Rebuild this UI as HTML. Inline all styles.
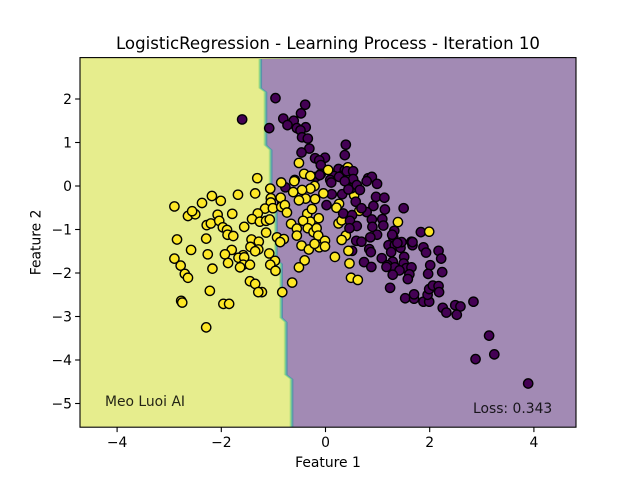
<!DOCTYPE html>
<html lang="en">
<head>
<meta charset="utf-8">
<title>LogisticRegression - Learning Process</title>
<style>
html,body{margin:0;padding:0;background:#fff;width:640px;height:480px;overflow:hidden}
svg{display:block}
text{font-family:"DejaVu Sans","Liberation Sans",sans-serif;fill:#000}
</style>
</head>
<body>
<svg id="chart" width="640" height="480" viewBox="0 0 640 480" xmlns="http://www.w3.org/2000/svg">
  <g id="surface"></g>
  <g id="points"></g>
  <rect x="80" y="57.6" width="496" height="369.6" fill="none" stroke="#000" stroke-width="1.1"></rect>
  <g id="ticks"></g>
  <text x="328" y="49" font-size="16.6" text-anchor="middle">LogisticRegression - Learning Process - Iteration 10</text>
  <text x="328" y="467" font-size="13.89" text-anchor="middle">Feature 1</text>
  <text transform="translate(40.5,242.4) rotate(-90)" font-size="13.89" text-anchor="middle">Feature 2</text>
  <text x="105" y="406" font-size="13.89" fill-opacity="0.85">Meo Luoi AI</text>
  <text x="473" y="413" font-size="13.89" fill-opacity="0.85">Loss: 0.343</text>
</svg>
<script>
const xTicks = [-4, -2, 0, 2, 4];
const yTicks = [2, 1, 0, -1, -2, -3, -4, -5];
const boundaryX = [-1.29, -1.29, -1.19, -1.19, -1.09, -1.09, -0.99, -0.99, -0.89, -0.89, -0.80, -0.80, -0.69, -0.69];
const boundaryY = [2.92, 2.25, 2.16, 0.94, 0.83, -0.38, -0.48, -1.70, -1.79, -3.03, -3.13, -4.34, -4.44, -5.55];
const class0Back = [
[-0.96,2.02],[-0.39,1.87],[-0.47,1.67],[-0.81,1.55],[-0.61,1.50],[-0.73,1.40],[-1.08,1.33],[-0.38,1.35],[-0.55,1.33],[-0.48,1.28],
[-0.45,1.12],[-0.34,1.09],[-0.31,0.86],[-0.46,0.77],[0.39,0.95],[0.37,0.71],[-0.01,0.65],[-0.20,0.64],[-0.12,0.59],[-0.09,0.48],
[0.25,0.39],[0.37,0.37],[-0.09,0.28],[0.16,0.23],[0.30,0.23],[-0.18,0.21],[-1.60,1.53],[0.09,0.14],[0.11,0.08],[0.26,0.21],
[-0.77,-0.03],[-0.59,0.14],[-0.11,0.25],[-0.83,-0.41],[0.12,-0.19],[0.02,-0.44],[0.82,0.18],[0.89,0.21],[0.79,0.11],[0.99,0.05],
[0.97,-0.25],[1.13,-0.27],[0.92,-0.46],[1.14,-0.54],[0.79,-0.60],[0.89,-0.77],[1.09,-0.76],[0.90,-0.94],[1.11,-0.91],[1.32,-1.03],
[1.50,-0.51],[1.83,-1.06],[0.99,-1.12],[0.86,-1.18],[1.30,-1.18],[1.28,-1.12],[0.59,-1.26],[0.69,-1.28],[1.65,-1.28],[1.21,-1.36],
[1.33,-1.36],[1.44,-1.42],[1.67,-1.36],[1.88,-1.41],[1.93,-1.53],[0.51,-1.49],[0.84,-1.45],[0.87,-1.52],[1.26,-1.52],[1.08,-1.66],
[1.51,-1.63],[1.29,-1.74],[0.74,-1.75],[1.19,-1.82],[1.50,-1.78],[0.88,-1.86],[1.33,-1.87],[1.55,-1.89],[1.65,-1.87],[2.01,-1.82],
[1.46,-1.29],[1.38,-1.31],[1.67,-1.29],[2.17,-1.49],[2.22,-1.67],[1.97,-2.02],[2.24,-1.98],[1.17,-1.86],[1.42,-1.94],[1.61,-2.03],
[1.58,-2.14],[1.29,-2.04],[1.24,-2.34],[1.53,-2.58],[1.70,-2.59],[1.70,-2.49],[1.88,-2.66],[1.99,-2.66],[1.96,-2.50],[1.99,-2.37],
[2.06,-2.29],[2.17,-2.30],[2.18,-2.44],[2.25,-2.80],[2.32,-2.91],[2.49,-2.74],[2.59,-2.77],[2.52,-2.96],[2.84,-2.66],[3.14,-3.44],
[2.88,-3.98],[3.24,-3.87],[3.89,-4.54]
];
const class1 = [
[-2.90,-0.47],[-2.64,-0.69],[-2.50,-0.65],[-2.56,-0.58],[-2.37,-0.39],[-2.28,-0.90],[-2.20,-0.86],[-2.85,-1.23],[-2.29,-1.21],[-2.58,-1.47],
[-2.26,-1.57],[-2.90,-1.67],[-2.78,-1.83],[-2.18,-0.23],[-1.31,0.18],[-1.06,-0.06],[-0.85,0.08],[-0.60,0.11],[-0.41,0.28],[-0.29,0.23],
[-0.21,0],[-0.29,-0.06],[-0.45,-0.09],[-0.62,-0.14],[-0.86,-0.27],[-0.38,-0.29],[-0.51,-0.33],[-1.05,-0.28],[-1.05,-0.38],[-1.35,-0.17],
[-1.68,-0.20],[-2.01,-0.34],[-1.16,-0.52],[-1.01,-0.51],[-0.85,-0.48],[-0.78,-0.44],[-0.74,-0.61],[-1.30,-0.63],[-1.41,-0.76],[-1.26,-0.82],
[-1.14,-0.80],[-1.07,-0.77],[-1.79,-0.64],[-2.07,-0.66],[-2.04,-0.80],[-1.97,-0.95],[-1.89,-1.01],[-1.56,-0.94],[-1.88,-1.12],[-1.77,-1.15],
[-1.14,-1.07],[-0.66,-0.87],[-0.55,-0.98],[-0.55,-1.14],[-0.35,-0.64],[-0.29,-0.82],[-0.43,-0.80],[-0.34,-0.97],[-0.23,-1.06],[-0.13,-0.74],
[-0.26,-0.53],[-0.93,-1.18],[-0.80,-1.22],[-0.87,-1.29],[-1.42,-1.23],[-1.28,-1.28],[-1.44,-1.40],[-1.29,-1.46],[-1.35,-1.50],[-0.46,-1.37],
[-0.32,-1.46],[-0.12,-1.41],[-1.80,-1.47],[-1.93,-1.57],[-1.08,-1.55],[-1.58,-1.59],[-1.67,-1.65],[-1.56,-1.64],[-0.97,-1.72],[-1.87,-1.77],
[-1.58,-1.81],[-1.45,-1.81],[-1.06,-1.81],[-2.17,-1.90],[-0.40,-1.71],[-0.51,-1.87],[-2.70,-2.02],[-2.64,-2.11],[-1.64,-1.87],[-0.96,-1.95],
[-1.45,-2.19],[-1.35,-2.25],[-1.22,-2.44],[-1.29,-2.44],[-0.64,-2.22],[-0.83,-2.44],[-2.22,-2.41],[-2.77,-2.64],[-2.75,-2.68],[-1.96,-2.71],
[-1.85,-2.71],[-2.29,-3.25],[-0.04,-0.17],[-0.20,-0.30],[-0.17,-0.97],[-0.14,-1.14],[-0.01,-1.26],[-0.01,-1.39],[-0.21,-1.33],[0.26,-0.41],
[0.21,-0.50],[0.25,-0.86],[0.31,-0.79],[0.39,-1.14],[0.31,-1.24],[0.44,-1.49],[0.18,-1.63],[0.46,-1.78],[0.55,0.08],[0.57,-0.07],
[0.55,-0.21],[0.65,-0.57],[1.39,-0.83],[1.99,-1.05],[0.05,0.37],[-0.51,0.53],[0.43,0.43],[0.49,-2.11],[0.62,-2.16]
];
const class0Front = [
[0.41,0.34],[0.53,0.34],[0.53,0.16],[0.37,0.11],[0.50,-0.05],[0.60,0.02],[0.32,-0.19],[0.44,-0.08],[0.66,-0.09],[0.58,-0.36],
[0.69,-0.51],[0.34,-0.63],[0.51,-0.67],[0.47,-0.80],[0.60,-0.92],[0.46,-0.97]
];

const NS = 'http://www.w3.org/2000/svg';
const plot = { left: 80, right: 576, top: 57.6, bottom: 427.2 };
function sx(v) { return 325.5 + v * 52.1; }
function sy(v) { return 186 + -v * 43.5; }

const surface = document.getElementById('surface');
const background = document.createElementNS(NS, 'rect');


background.setAttribute('x', plot.left);
background.setAttribute('y', plot.top);
background.setAttribute('width', plot.right - plot.left);
background.setAttribute('height', plot.bottom - plot.top);
background.setAttribute('fill', '#e6ed8d');
surface.appendChild(background);

const bandColors = ['#bfe27f', '#7fcf8f', '#5fb5a8', '#5a8aaa', '#a28ab4'];
bandColors.forEach(function (color, i) {
  const edge = boundaryX.map(function (bx, k) {
    const py = Math.min(plot.bottom, Math.max(plot.top, sy(boundaryY[k])));
    return (sx(bx) + i * 0.95).toFixed(2) + ',' + py.toFixed(2);
  });
  const region = document.createElementNS(NS, 'polygon');
  
  
  region.setAttribute('points', edge.join(' ') + ' ' + plot.right + ',' + plot.bottom + ' ' + plot.right + ',' + plot.top);
  region.setAttribute('fill', color);
  surface.appendChild(region);
});

const pointLayer = document.getElementById('points');
function drawPoints(list, fill, name) {
  list.forEach(function (p) {
    const c = document.createElementNS(NS, 'circle');
    
    
    c.setAttribute('cx', sx(p[0]).toFixed(2));
    c.setAttribute('cy', sy(p[1]).toFixed(2));
    c.setAttribute('r', 4.65);
    c.setAttribute('fill', fill);
    c.setAttribute('stroke', '#000');
    c.setAttribute('stroke-width', 1.39);
    pointLayer.appendChild(c);
  });
}
drawPoints(class0Back, '#440154', 'class-0-point');
drawPoints(class1, '#fde725', 'class-1-point');
drawPoints(class0Front, '#440154', 'class-0-point');

const tickLayer = document.getElementById('ticks');
function tickText(v) { return v < 0 ? '\u2212' + Math.abs(v) : String(v); }
xTicks.forEach(function (v) {
  const line = document.createElementNS(NS, 'line');
  
  
  line.setAttribute('x1', sx(v));
  line.setAttribute('x2', sx(v));
  line.setAttribute('y1', plot.bottom);
  line.setAttribute('y2', plot.bottom + 4.9);
  line.setAttribute('stroke', '#000');
  line.setAttribute('stroke-width', 1.1);
  tickLayer.appendChild(line);
  const label = document.createElementNS(NS, 'text');
  
  
  label.setAttribute('x', sx(v));
  label.setAttribute('y', 447);
  label.setAttribute('font-size', 13.89);
  label.setAttribute('text-anchor', 'middle');
  label.textContent = tickText(v);
  tickLayer.appendChild(label);
});
yTicks.forEach(function (v) {
  const line = document.createElementNS(NS, 'line');
  
  
  line.setAttribute('x1', plot.left - 4.9);
  line.setAttribute('x2', plot.left);
  line.setAttribute('y1', sy(v));
  line.setAttribute('y2', sy(v));
  line.setAttribute('stroke', '#000');
  line.setAttribute('stroke-width', 1.1);
  tickLayer.appendChild(line);
  const label = document.createElementNS(NS, 'text');
  
  
  label.setAttribute('x', 72);
  label.setAttribute('y', sy(v) + 5);
  label.setAttribute('font-size', 13.89);
  label.setAttribute('text-anchor', 'end');
  label.textContent = tickText(v);
  tickLayer.appendChild(label);
});
</script>
</body>
</html>
